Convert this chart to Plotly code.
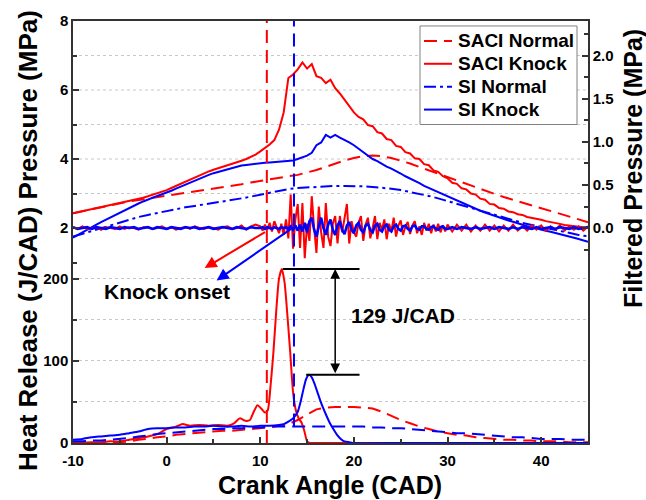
import plotly.graph_objects as go

# ---------------- DATA ----------------
# crank angle grids (CAD)
cad_1 = list(range(-10, 46))                       # 1 CAD step
cad_half = [-10 + 0.5 * i for i in range(111)]     # 0.5 CAD step
filt_cad = ([-10 + 0.5 * i for i in range(40)] +
            [10 + 0.25 * i for i in range(81)] +
            [30.5 + 0.5 * i for i in range(30)])

# Cylinder pressure (MPa)
saci_normal_p = [2.43, 2.49, 2.55, 2.60, 2.65, 2.71, 2.77, 2.81, 2.85, 2.89,
                 2.93, 2.97, 3.01, 3.05, 3.09, 3.13, 3.17, 3.22, 3.27, 3.32,
                 3.37, 3.42, 3.46, 3.50, 3.54, 3.60, 3.68, 3.77, 3.87, 3.96,
                 4.03, 4.08, 4.10, 4.08, 4.03, 3.96, 3.87, 3.77, 3.67, 3.57,
                 3.47, 3.37, 3.27, 3.17, 3.08, 2.99, 2.90, 2.82, 2.74, 2.66,
                 2.58, 2.50, 2.42, 2.34, 2.25, 2.17]
saci_knock_p = [2.43, 2.46, 2.49, 2.51, 2.55, 2.57, 2.60, 2.62, 2.65, 2.68,
                2.71, 2.74, 2.78, 2.81, 2.85, 2.88, 2.92, 2.96, 3.01, 3.05,
                3.10, 3.16, 3.22, 3.28, 3.35, 3.41, 3.48, 3.54, 3.60, 3.64,
                3.69, 3.73, 3.78, 3.82, 3.86, 3.90, 3.95, 4.00, 4.06, 4.13,
                4.22, 4.32, 4.42, 4.55, 4.85, 5.35, 6.35, 6.45, 6.60, 6.80,
                6.62, 6.75, 6.40, 6.35, 6.20, 6.30, 6.05, 5.90, 5.72, 5.55,
                5.35, 5.22, 5.15, 4.98, 4.95, 4.78, 4.74, 4.58, 4.55, 4.38,
                4.35, 4.20, 4.16, 4.02, 4.00, 3.85, 3.82, 3.67, 3.63, 3.50,
                3.44, 3.31, 3.28, 3.15, 3.12, 3.00, 2.97, 2.85, 2.82, 2.70,
                2.68, 2.58, 2.56, 2.48, 2.46, 2.40, 2.38, 2.32, 2.30, 2.26,
                2.24, 2.20, 2.18, 2.14, 2.12, 2.09, 2.08, 2.05, 2.04, 2.02,
                2.00]
si_normal_p = [1.75, 1.83, 1.91, 1.99, 2.07, 2.16, 2.25, 2.32, 2.38, 2.44,
               2.50, 2.55, 2.60, 2.64, 2.68, 2.72, 2.76, 2.80, 2.86, 2.91,
               2.97, 3.03, 3.08, 3.13, 3.16, 3.18, 3.20, 3.21, 3.22, 3.22,
               3.22, 3.21, 3.19, 3.17, 3.14, 3.10, 3.05, 2.99, 2.93, 2.86,
               2.78, 2.70, 2.61, 2.53, 2.45, 2.37, 2.29, 2.22, 2.15, 2.09,
               2.03, 1.97, 1.91, 1.86, 1.80, 1.76]
si_knock_p = [1.72, 1.80, 1.88, 1.96, 2.03, 2.10, 2.17, 2.24, 2.31, 2.38,
              2.45, 2.52, 2.58, 2.64, 2.71, 2.77, 2.83, 2.88, 2.93, 2.98,
              3.02, 3.08, 3.14, 3.20, 3.26, 3.32, 3.38, 3.43, 3.49, 3.54,
              3.59, 3.63, 3.67, 3.71, 3.75, 3.78, 3.81, 3.83, 3.85, 3.87,
              3.88, 3.89, 3.90, 3.91, 3.92, 3.93, 3.94, 3.96, 4.00, 4.05,
              4.10, 4.18, 4.40, 4.48, 4.70, 4.62, 4.70, 4.62, 4.56, 4.48,
              4.40, 4.30, 4.18, 4.10, 4.00, 3.94, 3.85, 3.78, 3.72, 3.66,
              3.58, 3.50, 3.44, 3.37, 3.30, 3.22, 3.16, 3.08, 3.02, 2.96,
              2.90, 2.84, 2.78, 2.72, 2.67, 2.61, 2.56, 2.50, 2.45, 2.40,
              2.36, 2.31, 2.27, 2.22, 2.18, 2.13, 2.09, 2.05, 2.02, 1.98,
              1.95, 1.92, 1.89, 1.86, 1.83, 1.80, 1.76, 1.72, 1.68, 1.64,
              1.60]

# Filtered pressure (MPa)
saci_knock_filt = [
    0.01, -0.01, 0.02, -0.01, 0.00, 0.01, -0.02, 0.01, 0.00, -0.01,
    0.02, -0.01, 0.01, 0.00, -0.02, 0.01, 0.01, -0.01, 0.00, 0.02,
    -0.01, 0.01, -0.02, 0.00, 0.01, -0.01, 0.02, 0.00, -0.01, 0.01,
    0.00, -0.02, 0.01, 0.02, -0.01, 0.00, 0.03, -0.02, 0.02, 0.04,
    0.02, -0.03, 0.04, -0.02, 0.06, -0.04, 0.08, 0.02, -0.06, 0.05,
    -0.08, 0.10, -0.12, 0.39, -0.24, 0.10, 0.28, -0.23, 0.29, -0.35,
    0.05, -0.15, 0.37, 0.00, -0.29, 0.25, -0.05, -0.23, 0.29, -0.10,
    -0.21, 0.05, 0.14, -0.18, 0.14, -0.05, 0.10, 0.28, -0.18, 0.08,
    -0.05, -0.10, 0.06, 0.14, -0.15, 0.04, 0.12, -0.12, 0.00, 0.14,
    -0.13, 0.06, -0.02, 0.10, -0.13, 0.05, -0.04, 0.12, -0.10, 0.03,
    0.09, -0.08, 0.02, 0.07, -0.07, 0.03, 0.08, -0.06, 0.02, -0.08,
    0.06, -0.03, 0.05, -0.06, 0.04, -0.04, 0.05, -0.05, 0.03, -0.04,
    0.04,
    -0.04, 0.04, -0.03, 0.04, -0.04, 0.03, -0.03, 0.04, -0.03, 0.03,
    -0.04, 0.03, -0.03, 0.04, -0.03, 0.02, -0.03, 0.03, -0.02, 0.03,
    -0.03, 0.02, -0.02, 0.03, -0.03, 0.02, -0.02, 0.02, -0.03, 0.02]
si_knock_filt = [
    0.01, -0.01, 0.00, 0.01, -0.01, 0.01, 0.00, -0.01, 0.01, 0.00,
    -0.01, 0.01, 0.00, 0.01, -0.01, 0.00, 0.01, -0.01, 0.01, 0.00,
    -0.01, 0.01, 0.00, -0.01, 0.01, 0.00, 0.01, -0.01, 0.00, 0.01,
    -0.01, 0.00, 0.01, 0.00, -0.01, 0.01, 0.00, -0.01, 0.01, 0.00,
    0.00, 0.01, -0.01, 0.01, 0.00, -0.01, 0.01, 0.00, -0.01, 0.01,
    0.00, 0.01, -0.01, 0.02, -0.02, 0.03, -0.03, 0.04, -0.04, 0.06,
    -0.05, 0.08, 0.12, -0.02, -0.10, 0.02, 0.12, 0.00, -0.08, 0.04,
    0.10, -0.02, -0.08, 0.03, 0.08, -0.02, -0.07, 0.03, 0.07, -0.02,
    -0.06, 0.03, 0.06, -0.02, -0.05, 0.03, 0.05, -0.02, -0.05, 0.03,
    0.05, -0.02, -0.04, 0.02, 0.04, -0.02, -0.04, 0.02, 0.04, -0.01,
    -0.03, 0.02, 0.03, -0.01, -0.03, 0.02, 0.03, -0.01, -0.02, 0.02,
    0.02, -0.01, -0.02, 0.01, 0.02, -0.01, -0.02, 0.01, 0.02, -0.01,
    -0.01,
    0.01, -0.01, 0.01, 0.00, -0.01, 0.01, -0.01, 0.00, 0.01, -0.01,
    0.01, 0.00, -0.01, 0.01, -0.01, 0.01, 0.00, -0.01, 0.01, -0.01,
    0.00, 0.01, -0.01, 0.01, 0.00, -0.01, 0.01, -0.01, 0.00, 0.01]

# Heat release rate (J/CAD)
saci_normal_hrr = [0, 0, 0, 0, 0, 1, 2, 4, 5, 7,
                   8, 10, 11, 12, 13, 14, 15, 15, 16, 17,
                   18, 19, 21, 23, 28, 35, 41, 43, 44, 44,
                   44, 43, 42, 38, 33, 28, 24, 20, 17, 14,
                   12, 10, 9, 7, 6, 5, 4, 4, 3, 3,
                   2, 2, 2, 1, 1, 1]
si_normal_hrr = [2, 2, 3, 3, 4, 5, 6, 8, 9, 11,
                 12, 13, 14, 15, 16, 17, 17, 18, 18, 19,
                 19, 20, 20, 20, 20, 20, 20, 20, 20, 20,
                 20, 20, 19, 19, 18, 18, 17, 16, 15, 14,
                 13, 12, 12, 11, 10, 9, 8, 7, 7, 6,
                 5, 5, 5, 4, 4, 4]
saci_knock_hrr_cad = [-10, -9, -8, -7, -6, -5, -4, -3, -2, -1, 0, 1,
                      1.7, 2.5, 3.5, 4.5, 5.5, 6.5,
                      7.2, 7.8, 8.4, 8.9, 9.3, 9.7,
                      10.1, 10.5, 10.8, 11.1, 11.4, 11.7,
                      12.0, 12.3, 12.6, 12.9, 13.2, 13.5,
                      13.8, 14.1, 14.4, 14.7, 15.0, 15.3,
                      16, 20, 25, 30, 35, 40, 45]
saci_knock_hrr = [0, 0, 1, 1, 2, 2, 4, 6, 8, 11, 17, 20,
                  23, 21, 22, 21, 22, 21,
                  24, 30, 27, 28, 38, 46,
                  42, 37, 40, 70, 110, 160,
                  200, 212, 195, 155, 110, 62,
                  40, 30, 25, 15, 2, 0,
                  0, 0, 0, 0, 0, 0, 0]
si_knock_hrr_cad = [-10, -9, -8, -7, -6, -5, -4, -3, -2, -1, 0, 1, 2, 3, 4, 5, 6, 7, 8, 9, 10, 11, 12,
                    12.5, 13, 13.5, 14,
                    14.3, 14.6, 14.9, 15.2, 15.5, 15.8,
                    16.1, 16.4, 16.7, 17, 17.4, 17.8,
                    18.2, 18.6, 19, 19.5, 20,
                    25, 30, 35, 40, 45]
si_knock_hrr = [4, 5, 7, 8, 9, 10, 12, 14, 17, 18, 18, 19, 19, 20, 20, 21, 20, 20, 21, 20, 21, 21, 22,
                23, 26, 30, 38,
                50, 65, 78, 83, 80, 72,
                62, 52, 43, 35, 25, 17,
                10, 5, 2, 1, 0,
                0, 0, 0, 0, 0]

# tick labels
x_ticks = [-10, 0, 10, 20, 30, 40]
x_ticklabels = ["-10", "0", "10", "20", "30", "40"]
p_ticks = [2, 4, 6, 8]
hrr_ticks = [0, 100, 200]
f_ticks = [0, 0.5, 1.0, 1.5, 2.0]
f_ticklabels = ["0.0", "0.5", "1.0", "1.5", "2.0"]

# knock onset markers
saci_onset = 10.7
si_onset = 13.6

# ---------------- FIGURE ----------------
RED = "#FF0000"
BLUE = "#0000FF"
AX = "#333333"
GRID = "#c8c8c8"
FONT = "Liberation Sans, Arial, sans-serif"
DASH = "13px,7px"
DASHDOT = "12px,4px,3px,4px"

# axis ranges chosen so the three scales share the plot area as in the original
p_lo, p_hi = -4.23, 8.0
hrr_lo, hrr_hi = 0.0, 514.0
f_lo, f_hi = -2.497, 2.405

series_styles = [("SACI Normal", RED, DASH), ("SACI Knock", RED, "solid"),
                 ("SI Normal", BLUE, DASHDOT), ("SI Knock", BLUE, "solid")]

fig = go.Figure()
fig.add_trace(go.Scatter(x=cad_1, y=saci_normal_p, mode="lines", name="SACI Normal",
                         line=dict(color=RED, width=2, dash=DASH)))
fig.add_trace(go.Scatter(x=cad_half, y=saci_knock_p, mode="lines", name="SACI Knock",
                         line=dict(color=RED, width=2)))
fig.add_trace(go.Scatter(x=cad_1, y=si_normal_p, mode="lines", name="SI Normal",
                         line=dict(color=BLUE, width=2, dash=DASHDOT)))
fig.add_trace(go.Scatter(x=cad_half, y=si_knock_p, mode="lines", name="SI Knock",
                         line=dict(color=BLUE, width=2)))

# heat release
fig.add_trace(go.Scatter(x=cad_1, y=saci_normal_hrr, yaxis="y2", mode="lines",
                         line=dict(color=RED, width=2, dash=DASH)))
fig.add_trace(go.Scatter(x=saci_knock_hrr_cad, y=saci_knock_hrr, yaxis="y2", mode="lines",
                         line=dict(color=RED, width=2, shape="spline", smoothing=0.6)))
fig.add_trace(go.Scatter(x=cad_1, y=si_normal_hrr, yaxis="y2", mode="lines",
                         line=dict(color=BLUE, width=2, dash=DASH)))
fig.add_trace(go.Scatter(x=si_knock_hrr_cad, y=si_knock_hrr, yaxis="y2", mode="lines",
                         line=dict(color=BLUE, width=2, shape="spline", smoothing=0.6)))

# filtered pressure
fig.add_trace(go.Scatter(x=filt_cad, y=saci_knock_filt, yaxis="y3", mode="lines",
                         line=dict(color=RED, width=2)))
fig.add_trace(go.Scatter(x=filt_cad, y=si_knock_filt, yaxis="y3", mode="lines",
                         line=dict(color=BLUE, width=2.6)))

shapes = []
for pv in [3, 4, 5, 6, 7]:
    shapes.append(dict(type="line", xref="paper", yref="y", x0=0, x1=1, y0=pv, y1=pv,
                       line=dict(color=GRID, width=1, dash="dot"), layer="below"))
shapes.append(dict(type="line", xref="x", yref="paper", x0=saci_onset, x1=saci_onset, y0=0, y1=1,
                   line=dict(color=RED, width=2, dash=DASH), layer="above"))
shapes.append(dict(type="line", xref="x", yref="y2", x0=si_onset, x1=si_onset, y0=20, y1=hrr_hi,
                   line=dict(color=BLUE, width=2, dash=DASH), layer="above"))
peak_saci = max(saci_knock_hrr)
peak_si = max(si_knock_hrr)
shapes.append(dict(type="line", xref="x", yref="y2", x0=12.4, x1=20.6, y0=peak_saci, y1=peak_saci,
                   line=dict(color="black", width=2)))
shapes.append(dict(type="line", xref="x", yref="y2", x0=14.9, x1=20.6, y0=peak_si, y1=peak_si,
                   line=dict(color="black", width=2)))

annotations = [
    dict(x=18.0, y=peak_saci, ax=18.0, ay=peak_si, xref="x", yref="y2", axref="x", ayref="y2",
         text="", showarrow=True, arrowhead=2, arrowside="end+start", arrowsize=1.3,
         arrowwidth=1.5, arrowcolor="black"),
    dict(x=4.06, y=213, ax=10.67, ay=258, xref="x", yref="y2", axref="x", ayref="y2",
         text="", showarrow=True, arrowhead=2, arrowsize=1.2, arrowwidth=2, arrowcolor=RED),
    dict(x=5.34, y=198, ax=13.45, ay=262, xref="x", yref="y2", axref="x", ayref="y2",
         text="", showarrow=True, arrowhead=2, arrowsize=1.2, arrowwidth=2, arrowcolor=BLUE),
    dict(x=0.0, y=185, xref="x", yref="y2", text="Knock onset", showarrow=False,
         font=dict(size=21, family=FONT, color="black", weight="bold")),
    dict(x=25.2, y=155, xref="x", yref="y2", text="129 J/CAD", showarrow=False,
         font=dict(size=21, family=FONT, color="black", weight="bold")),
    dict(x=-0.087, y=0.479, xref="paper", yref="paper", text="Heat Release (J/CAD) Pressure (MPa)",
         textangle=-90, showarrow=False, xanchor="center", yanchor="middle",
         font=dict(size=26, family=FONT, color="black", weight="bold")),
    dict(x=1.087, y=0.651, xref="paper", yref="paper", text="Filtered Pressure (MPa)",
         textangle=-90, showarrow=False, xanchor="center", yanchor="middle",
         font=dict(size=25, family=FONT, color="black", weight="bold")),
    dict(x=0.499, y=-0.099, xref="paper", yref="paper", text="Crank Angle (CAD)",
         showarrow=False, xanchor="center", yanchor="middle",
         font=dict(size=25, family=FONT, color="black", weight="bold")),
]

# hand-built legend box (to match the compact row spacing of the original)
W, H, L, T = 515.0, 424.0, 73.0, 19.0
def px(xp):
    return (xp - L) / W
def py(yp):
    return (T + H - yp) / H

shapes.append(dict(type="rect", xref="paper", yref="paper", x0=px(420), x1=px(577),
                   y0=py(123), y1=py(24), line=dict(color="#808080", width=1),
                   fillcolor="white", layer="above"))
for i, (nm, col, dsh) in enumerate(series_styles):
    yy = py(39 + 23 * i)
    shapes.append(dict(type="line", xref="paper", yref="paper", x0=px(424), x1=px(452),
                       y0=yy, y1=yy, line=dict(color=col, width=2, dash=dsh), layer="above"))
    annotations.append(dict(x=px(456), y=yy, xref="paper", yref="paper", text=nm,
                            showarrow=False, xanchor="left", yanchor="middle",
                            font=dict(size=19, family=FONT, color="black", weight="bold")))

tickfont = dict(size=15, family=FONT, color="black", weight="bold")
common = dict(ticks="inside", ticklen=6, tickwidth=1.5, tickcolor=AX, showline=True,
              linecolor=AX, linewidth=1.5, zeroline=False, tickfont=tickfont)

fig.update_layout(
    width=646, height=500,
    margin=dict(l=73, r=58, t=19, b=57),
    paper_bgcolor="white", plot_bgcolor="white",
    font=dict(family=FONT, color="black", size=15),
    showlegend=False,
    xaxis=dict(range=[-10, 45], tickvals=x_ticks, ticktext=x_ticklabels, mirror=True,
               showgrid=False, ticklabelstandoff=3,
               minor=dict(tickvals=[-5, 5, 15, 25, 35], ticks="inside", ticklen=4, tickcolor=AX),
               **common),
    yaxis=dict(range=[p_lo, p_hi], tickvals=p_ticks, mirror=True, showgrid=False,
               minor=dict(tickvals=[1, 3, 5, 7], ticks="inside", ticklen=4, tickcolor=AX),
               **common),
    yaxis2=dict(range=[hrr_lo, hrr_hi], overlaying="y", side="left", tickvals=hrr_ticks,
                showgrid=True, gridcolor=GRID, griddash="dot", gridwidth=1,
                minor=dict(tickvals=[50, 150], ticks="inside", ticklen=4, tickcolor=AX,
                           showgrid=True, gridcolor=GRID, griddash="dot"),
                **common),
    yaxis3=dict(range=[f_lo, f_hi], overlaying="y", side="right",
                tickvals=f_ticks, ticktext=f_ticklabels, showgrid=False,
                minor=dict(tickvals=[-0.25, 0.25, 0.75, 1.25, 1.75, 2.25], ticks="inside",
                           ticklen=4, tickcolor=AX),
                **common),
    shapes=shapes,
    annotations=annotations,
)

fig.write_html("out.html")
